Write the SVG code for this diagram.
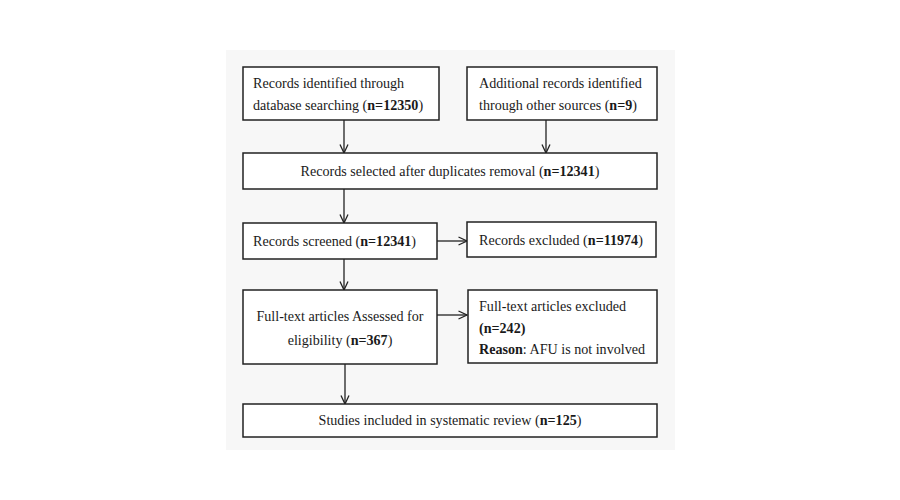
<svg xmlns="http://www.w3.org/2000/svg" width="900" height="500" viewBox="0 0 900 500">
<style>
.box{fill:#ffffff;stroke:#222;stroke-width:1.5}
text{font-family:"Liberation Serif","Times New Roman",serif;font-size:14.1px;fill:#1a1a1a}
.c{text-anchor:middle}
.b{font-weight:bold}
.ln{stroke:#222;stroke-width:1.3;fill:none}
</style>
<defs>
<marker id="ah" viewBox="0 0 10 10" refX="9.5" refY="5" markerWidth="10" markerHeight="10" markerUnits="userSpaceOnUse" orient="auto">
<path d="M1,1 L9.5,5 L1,9" fill="none" stroke="#222" stroke-width="1.3"/>
</marker>
</defs>
<rect x="0" y="0" width="900" height="500" fill="#ffffff"/>
<rect x="226" y="50" width="449" height="400" fill="#f7f7f7"/>
<g id="connectors">
<line class="ln" x1="344" y1="120" x2="344" y2="153" marker-end="url(#ah)"/>
<line class="ln" x1="546" y1="120" x2="546" y2="153" marker-end="url(#ah)"/>
<line class="ln" x1="344" y1="189" x2="344" y2="223" marker-end="url(#ah)"/>
<line class="ln" x1="437" y1="241" x2="467" y2="241" marker-end="url(#ah)"/>
<line class="ln" x1="344" y1="259" x2="344" y2="290" marker-end="url(#ah)"/>
<line class="ln" x1="437" y1="315" x2="467" y2="315" marker-end="url(#ah)"/>
<line class="ln" x1="345" y1="364" x2="345" y2="404" marker-end="url(#ah)"/>
</g>
<g id="n1">
<rect class="box" x="243" y="67" width="196" height="53"/>
<text x="253" y="88">Records identified through</text>
<text x="253" y="110">database searching (<tspan class="b">n=12350</tspan>)</text>
</g>
<g id="n2">
<rect class="box" x="467" y="67" width="190" height="53"/>
<text x="479" y="88">Additional records identified</text>
<text x="479" y="110">through other sources (<tspan class="b">n=9</tspan>)</text>
</g>
<g id="n3">
<rect class="box" x="243" y="153" width="414" height="36"/>
<text class="c" x="450" y="176">Records selected after duplicates removal (<tspan class="b">n=12341</tspan>)</text>
</g>
<g id="n4">
<rect class="box" x="243" y="223" width="194" height="36"/>
<text x="253" y="246">Records screened (<tspan class="b">n=12341</tspan>)</text>
</g>
<g id="n5">
<rect class="box" x="467" y="222" width="189" height="35"/>
<text x="479" y="245">Records excluded (<tspan class="b">n=11974</tspan>)</text>
</g>
<g id="n6">
<rect class="box" x="243" y="290" width="194" height="74"/>
<text class="c" x="340" y="321">Full-text articles Assessed for</text>
<text class="c" x="340" y="345">eligibility (<tspan class="b">n=367</tspan>)</text>
</g>
<g id="n7">
<rect class="box" x="468" y="290" width="189" height="73"/>
<text x="479" y="311">Full-text articles excluded</text>
<text x="479" y="333"><tspan class="b">(n=242)</tspan></text>
<text x="479" y="354"><tspan class="b">Reason</tspan>: AFU is not involved</text>
</g>
<g id="n8">
<rect class="box" x="243" y="404" width="414" height="33"/>
<text class="c" x="450" y="425">Studies included in systematic review (<tspan class="b">n=125</tspan>)</text>
</g>
</svg>
